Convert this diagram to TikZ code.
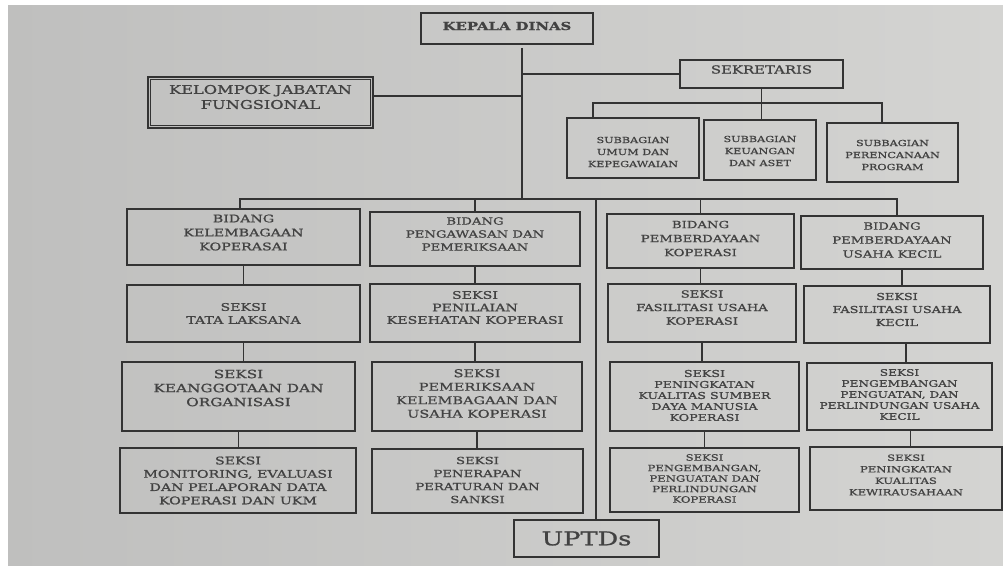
\documentclass[tikz,border=0pt]{standalone}
\usepackage{fontspec}
\setmainfont{DejaVu Serif}[FakeStretch=1.35, FakeBold=1.2]
\definecolor{ink}{HTML}{333333}
\definecolor{txtc}{HTML}{424242}
\definecolor{paperL}{HTML}{BFBFBE}
\definecolor{paperR}{HTML}{D4D4D2}
\newcommand\fs[2]{\fontsize{#1}{#2}\selectfont}
\newcommand\orgbox[8]{%
  \node[obox, minimum width=#4, minimum height=#5] (#1) at (#2,#3) {};
  \node[otxt, font=#6] (#1t) at ([yshift=#7]#1.center) {#8};}
\begin{document}
\begin{tikzpicture}[x=1pt,y=-1pt,
  obox/.style={draw=ink, line width=1.6pt, inner sep=0pt},
  otxt/.style={text=txtc, align=center, inner sep=0pt},
  conn/.style={draw=ink, line width=1.5pt},
  trunkline/.style={draw=ink, line width=2.2pt}]
\useasboundingbox (0,0) rectangle (1003,568);
\fill[white] (0,0) rectangle (1003,568);
\shade[left color=paperL, right color=paperR] (8,5) rectangle (1003,565);

% top level
\orgbox{kd}{507}{28.5}{172}{31}{\bfseries\fs{11}{13}}{2.5}{KEPALA DINAS}
\orgbox{kjf}{260.5}{102.5}{225}{51}{\fs{12}{15}}{5.5}{KELOMPOK JABATAN\\FUNGSIONAL}
\node[obox, line width=0.9pt, double=paperL, double distance=1.2pt, minimum width=222, minimum height=48] (kjfd) at (kjf.center) {};
\orgbox{sek}{761.5}{74}{163}{28}{\fs{11}{13}}{4.5}{SEKRETARIS}

% subbagian
\orgbox{sb1}{633}{148}{132}{60}{\fs{8.3}{12}}{-4}{SUBBAGIAN\\UMUM DAN\\KEPEGAWAIAN}
\orgbox{sb2}{760}{150}{112}{60}{\fs{8.3}{12}}{-1}{SUBBAGIAN\\KEUANGAN\\DAN ASET}
\orgbox{sb3}{892.5}{152.5}{131}{59}{\fs{8.3}{12}}{-2.5}{SUBBAGIAN\\PERENCANAAN\\PROGRAM}

% bidang
\orgbox{b1}{243.5}{237}{233}{56}{\fs{10.5}{14}}{4.5}{BIDANG\\KELEMBAGAAN\\KOPERASAI}
\orgbox{b2}{475}{239}{210}{54}{\fs{9.8}{13}}{5}{BIDANG\\PENGAWASAN DAN\\PEMERIKSAAN}
\orgbox{b3}{700.5}{241}{187}{54}{\fs{9.8}{14}}{2.5}{BIDANG\\PEMBERDAYAAN\\KOPERASI}
\orgbox{b4}{892}{242.5}{182}{53}{\fs{9.8}{14}}{2.5}{BIDANG\\PEMBERDAYAAN\\USAHA KECIL}

% seksi row 1
\orgbox{s11}{243.5}{313.5}{233}{57}{\fs{10.5}{13}}{0}{SEKSI\\TATA LAKSANA}
\orgbox{s21}{475}{313}{210}{58}{\fs{10.5}{12.5}}{5.5}{SEKSI\\PENILAIAN\\KESEHATAN KOPERASI}
\orgbox{s31}{702}{313}{188}{58}{\fs{9.7}{13.5}}{5.5}{SEKSI\\FASILITASI USAHA\\KOPERASI}
\orgbox{s41}{897}{314.5}{186}{57}{\fs{9.5}{13}}{5}{SEKSI\\FASILITASI USAHA\\KECIL}

% seksi row 2
\orgbox{s12}{238.5}{396.5}{233}{69}{\fs{11.3}{14}}{8.5}{SEKSI\\KEANGGOTAAN DAN\\ORGANISASI}
\orgbox{s22}{477}{396.5}{210}{69}{\fs{10.7}{13.5}}{3}{SEKSI\\PEMERIKSAAN\\KELEMBAGAAN DAN\\USAHA KOPERASI}
\orgbox{s32}{704.5}{396.5}{189}{69}{\fs{9.4}{11}}{1}{SEKSI\\PENINGKATAN\\KUALITAS SUMBER\\DAYA MANUSIA\\KOPERASI}
\orgbox{s42}{899.5}{396.5}{185}{67}{\fs{9}{11}}{2}{SEKSI\\PENGEMBANGAN\\PENGUATAN, DAN\\PERLINDUNGAN USAHA\\KECIL}

% seksi row 3
\orgbox{s13}{238}{480.5}{236}{65}{\fs{10.5}{13.3}}{0}{SEKSI\\MONITORING, EVALUASI\\DAN PELAPORAN DATA\\KOPERASI DAN UKM}
\orgbox{s23}{477.5}{481}{211}{64}{\fs{9.8}{13}}{1}{SEKSI\\PENERAPAN\\PERATURAN DAN\\SANKSI}
\orgbox{s33}{704.5}{480}{189}{64}{\fs{8.6}{10.5}}{1.5}{SEKSI\\PENGEMBANGAN,\\PENGUATAN DAN\\PERLINDUNGAN\\KOPERASI}
\orgbox{s43}{906}{478.5}{192}{63}{\fs{8.6}{11.5}}{3.5}{SEKSI\\PENINGKATAN\\KUALITAS\\KEWIRAUSAHAAN}

% UPTD
\orgbox{uptd}{586.5}{538.5}{145}{37}{\fs{19}{22}}{0}{UPTDs}

% coordinates of the buses
\coordinate (trunk) at (522,199);
\coordinate (sbL) at (593,103);
\coordinate (sbR) at (882,103);
\coordinate (busL) at (240,199);
\coordinate (busR) at (897,199);
\coordinate (up) at (596,199);

% connectors
\draw[trunkline, shorten <=3pt] (kd.south -| trunk) -- (trunk);
\draw[conn] ([yshift=6.5]kjf.east) -- ([yshift=6.5]kjf.east -| trunk);
\draw[conn] (sek.west) -- (sek.west -| trunk);
\draw[conn] (sek.south) -- (sek.south |- sb2.north);
\draw[conn] (sb1.north -| sbL) -- (sbL) -- (sbR) -- (sb3.north -| sbR);
\draw[conn] (b1.north -| busL) -- (busL) -- (busR) -- (b4.north -| busR);
\draw[conn] (b2.north) -- (b2.north |- busL);
\draw[conn] (b3.north) -- (b3.north |- busL);
\draw[conn] (up) -- (up |- uptd.north);

\draw[conn] (b1.south) -- (b1.south |- s11.north);
\draw[conn] (s11.south) -- (s11.south |- s12.north);
\draw[conn] (s12.south) -- (s12.south |- s13.north);
\draw[conn] (b2.south) -- (b2.south |- s21.north);
\draw[conn] (s21.south) -- (s21.south |- s22.north);
\draw[conn] (s22.south) -- (s22.south |- s23.north);
\draw[conn] (b3.south) -- (b3.south |- s31.north);
\draw[conn] (s31.south) -- (s31.south |- s32.north);
\draw[conn] (s32.south) -- (s32.south |- s33.north);
\draw[conn] ([xshift=10]b4.south) -- ([xshift=10]b4.south |- s41.north);
\draw[conn] ([xshift=9]s41.south) -- ([xshift=9]s41.south |- s42.north);
\draw[conn] ([xshift=11]s42.south) -- ([xshift=11]s42.south |- s43.north);
\end{tikzpicture}
\end{document}
